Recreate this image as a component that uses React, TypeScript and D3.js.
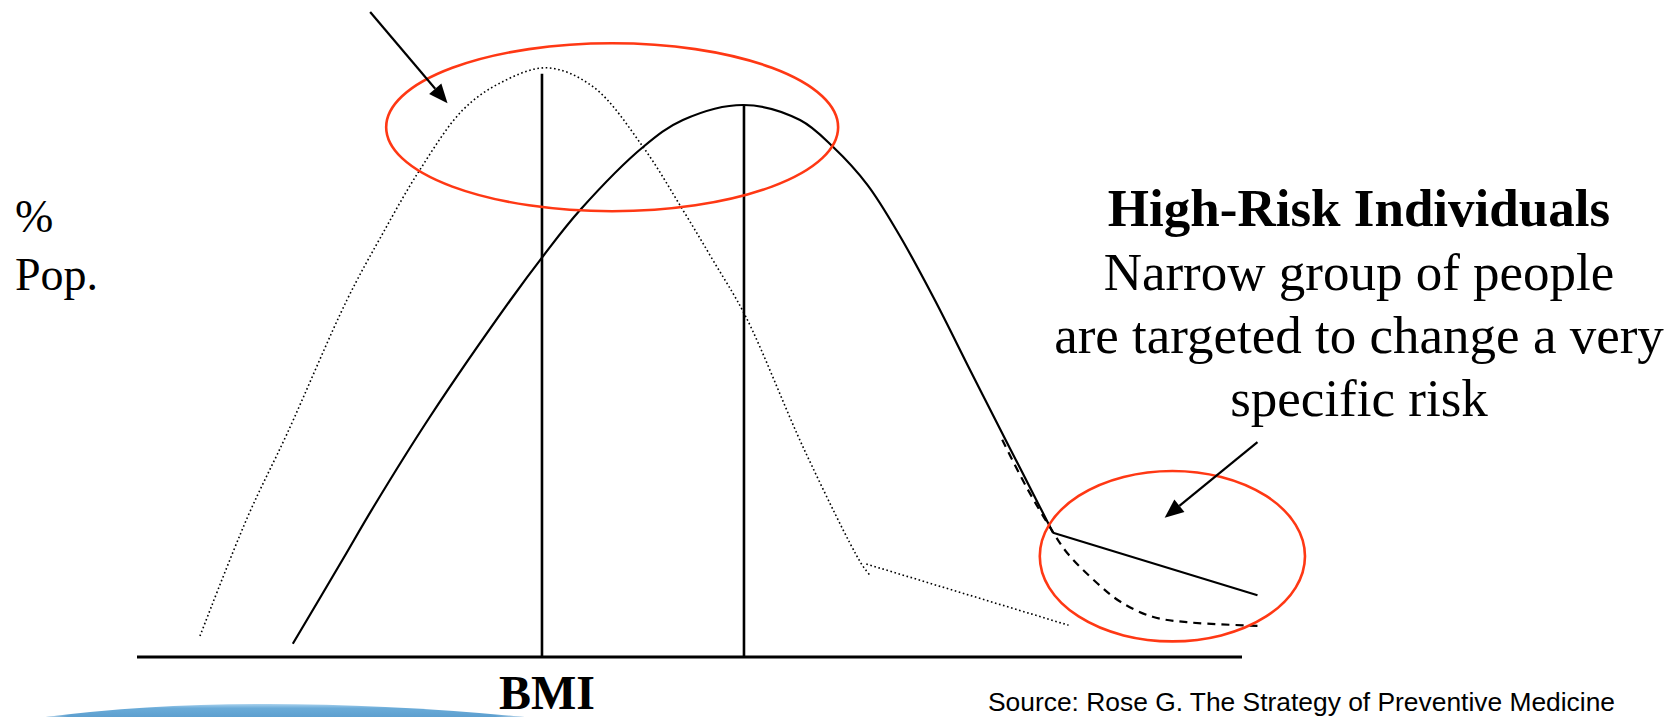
import React from "react";
import * as d3 from "d3";

// ---- Data (schematic units: BMI axis 0..100, % population 0..100) ----
const axisExtent = [0, 100];

// Dotted curve: population distribution shifted left (population strategy)
const shiftedBmi = [5.7, 10.0, 13.6, 19.0, 22.0, 25.6, 29.5, 32.9, 37.1, 41.3, 45.8, 49.4, 52.1, 55.1, 60.4, 65.5, 66.3];
const shiftedPct = [3.5, 23.3, 37.3, 59.5, 69.8, 81.2, 91.2, 95.7, 98.2, 95.0, 85.0, 74.5, 66.2, 56.7, 34.5, 15.7, 13.7];
const shiftedTailBmi = [66.0, 84.3];
const shiftedTailPct = [15.5, 5.3];

// Solid curve: current population distribution
const currentBmi = [14.1, 18.6, 21.4, 26.5, 33.8, 36.7, 40.1, 45.8, 49.4, 54.9, 60.0, 63.0, 66.1, 69.0, 72.2, 75.4, 78.6, 80.8, 82.9];
const currentPct = [2.2, 16.2, 25.0, 40.0, 59.5, 66.7, 74.5, 85.0, 89.5, 92.0, 89.5, 85.0, 78.7, 70.3, 59.5, 47.8, 36.2, 28.3, 20.7];
const currentTailBmi = [82.9, 101.4];
const currentTailPct = [20.7, 10.3];

// Dashed curve: high-risk tail after intervention
const highRiskBmi = [78.3, 80.5, 82.6, 84.2, 86.9, 89.0, 91.9, 95.0, 101.4];
const highRiskPct = [36.2, 28.3, 21.7, 17.3, 12.3, 9.2, 6.7, 5.8, 5.2];

// Mean markers (vertical lines)
const meanBmi = [36.65, 54.93];
const meanTop = [97.2, 92.0];

// Annotation ellipses [cx, cy, rx, ry] in data units
const ellipseCx = [43.0, 93.7];
const ellipseCy = [88.3, 16.8];
const ellipseRx = [20.45, 12.0];
const ellipseRy = [14.0, 14.2];

// Arrows [x1, y1] -> [x2, y2] in data units
const arrowFromX = [21.1, 101.4];
const arrowFromY = [107.5, 35.8];
const arrowToX = [28.1, 93.0];
const arrowToY = [92.3, 23.2];

// Texts
const yLabelLines = ["%", "Pop."];
const xLabel = "BMI";
const titleLine = "High-Risk Individuals";
const bodyLines = ["Narrow group of people", "are targeted to change a very", "specific risk"];
const sourceText = "Source: Rose G. The Strategy of Preventive Medicine";

const W = 1679;
const H = 717;
const RED = "#ff3814";
const SERIF = "'Liberation Serif', 'Times New Roman', serif";
const SANS = "'Liberation Sans', Arial, sans-serif";

export default function App() {
  const x = d3.scaleLinear().domain([0, 100]).range([137, 1242]);
  const y = d3.scaleLinear().domain([0, 100]).range([657, 57]);

  const zip = (xs: number[], ys: number[]) => xs.map((v, i) => [v, ys[i]] as [number, number]);

  const smooth = d3
    .line<[number, number]>()
    .x((d) => x(d[0]))
    .y((d) => y(d[1]))
    .curve(d3.curveCatmullRom.alpha(0.5));
  const straight = d3
    .line<[number, number]>()
    .x((d) => x(d[0]))
    .y((d) => y(d[1]));

  const arrows = arrowFromX.map((_, i) => {
    const x1 = x(arrowFromX[i]);
    const y1 = y(arrowFromY[i]);
    const x2 = x(arrowToX[i]);
    const y2 = y(arrowToY[i]);
    const ang = Math.atan2(y2 - y1, x2 - x1);
    const len = 19;
    const hw = 8;
    const bx = x2 - len * Math.cos(ang);
    const by = y2 - len * Math.sin(ang);
    const px = -Math.sin(ang) * hw;
    const py = Math.cos(ang) * hw;
    return { x1, y1, bx, by, x2, y2, head: `M${x2},${y2}L${bx + px},${by + py}L${bx - px},${by - py}Z` };
  });

  return (
    <svg
      width={W}
      height={H}
      viewBox={`0 0 ${W} ${H}`}
      style={{ position: "absolute", left: 0, top: 0, background: "#fff", display: "block" }}
    >
      <defs>
        <linearGradient id="swooshV" x1="0" y1="0" x2="0" y2="1">
          <stop offset="0" stopColor="#a9d2ee" />
          <stop offset="0.3" stopColor="#6aabd8" />
          <stop offset="1" stopColor="#5c9ece" />
        </linearGradient>
        <linearGradient id="swooshH" x1="0" y1="0" x2="1" y2="0">
          <stop offset="0" stopColor="#fff" stopOpacity="0.9" />
          <stop offset="0.06" stopColor="#fff" stopOpacity="0" />
          <stop offset="0.92" stopColor="#fff" stopOpacity="0" />
          <stop offset="1" stopColor="#fff" stopOpacity="0.9" />
        </linearGradient>
      </defs>
      <rect x={0} y={0} width={W} height={H} fill="#fff" />

      {/* decorative blue swoosh */}
      <path d="M38,718 Q250,690 535,718 Z" fill="url(#swooshV)" />
      <path d="M38,718 Q250,690 535,718 Z" fill="url(#swooshH)" />

      {/* x axis */}
      <line x1={x(axisExtent[0])} x2={x(axisExtent[1])} y1={y(0)} y2={y(0)} stroke="#000" strokeWidth={3} />

      {/* mean markers */}
      {meanBmi.map((m, i) => (
        <line key={i} x1={x(m)} x2={x(m)} y1={y(0)} y2={y(meanTop[i])} stroke="#000" strokeWidth={2.6} />
      ))}

      {/* shifted distribution (dotted) */}
      <path d={smooth(zip(shiftedBmi, shiftedPct)) || ""} fill="none" stroke="#000" strokeWidth={1.6} strokeDasharray="1.6 2.6" />
      <path d={straight(zip(shiftedTailBmi, shiftedTailPct)) || ""} fill="none" stroke="#000" strokeWidth={1.6} strokeDasharray="1.6 2.6" />

      {/* current distribution (solid) */}
      <path d={smooth(zip(currentBmi, currentPct)) || ""} fill="none" stroke="#000" strokeWidth={2.2} />
      <path d={straight(zip(currentTailBmi, currentTailPct)) || ""} fill="none" stroke="#000" strokeWidth={2.2} />

      {/* high-risk tail (dashed) */}
      <path d={smooth(zip(highRiskBmi, highRiskPct)) || ""} fill="none" stroke="#000" strokeWidth={2.2} strokeDasharray="8 6" />

      {/* ellipses */}
      {ellipseCx.map((cx, i) => (
        <ellipse
          key={i}
          cx={x(cx)}
          cy={y(ellipseCy[i])}
          rx={x(ellipseRx[i]) - x(0)}
          ry={y(0) - y(ellipseRy[i])}
          fill="none"
          stroke={RED}
          strokeWidth={2.6}
        />
      ))}

      {/* arrows */}
      {arrows.map((a, i) => (
        <g key={i}>
          <line x1={a.x1} y1={a.y1} x2={a.bx} y2={a.by} stroke="#000" strokeWidth={2.2} />
          <path d={a.head} fill="#000" />
        </g>
      ))}

      {/* y label */}
      {yLabelLines.map((t, i) => (
        <text key={i} x={15} y={232 + i * 58} fontFamily={SERIF} fontSize={46} fill="#000">
          {t}
        </text>
      ))}

      {/* x label */}
      <text x={547} y={709} textAnchor="middle" fontFamily={SERIF} fontSize={48} fontWeight="bold" fill="#000">
        {xLabel}
      </text>

      {/* right annotation */}
      <text x={1359} y={226} textAnchor="middle" fontFamily={SERIF} fontSize={53} fontWeight="bold" fill="#000">
        {titleLine}
      </text>
      {bodyLines.map((t, i) => (
        <text key={i} x={1359} y={290 + i * 63} textAnchor="middle" fontFamily={SERIF} fontSize={53} fill="#000">
          {t}
        </text>
      ))}

      {/* source */}
      <text x={988} y={711} fontFamily={SANS} fontSize={26} fill="#000" textLength={627} lengthAdjust="spacingAndGlyphs">
        {sourceText}
      </text>
    </svg>
  );
}
